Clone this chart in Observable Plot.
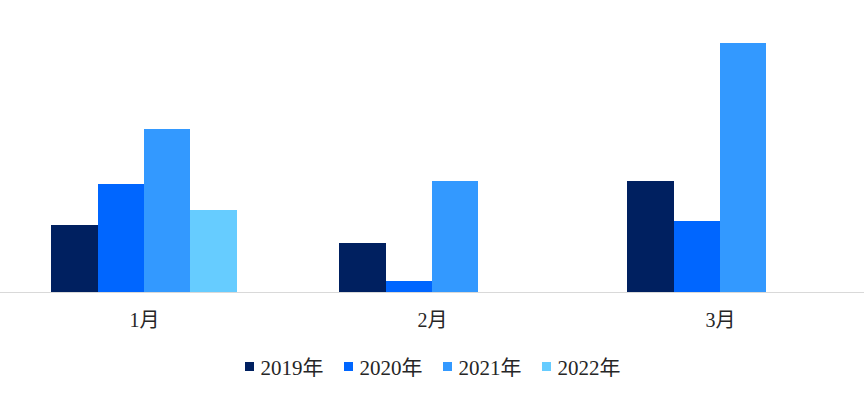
<!DOCTYPE html>
<html>
<head>
<meta charset="utf-8">
<script src="https://cdn.jsdelivr.net/npm/d3@7"></script>
<script src="https://cdn.jsdelivr.net/npm/@observablehq/plot@0.6"></script>
<style>
  body { margin: 0; background: #fff; }
  #chart { width: 865px; }
  .legend { display: flex; justify-content: center; align-items: center; margin-top: 10px; height: 22px;
    font-family: "Liberation Serif", "DejaVu Serif", serif, "Noto Sans CJK SC"; font-size: 21px; color: #262626; }
  .legend .item { display: flex; align-items: center; margin: 0 10px; }
  .legend .sw { width: 9px; height: 9px; margin-right: 7px; display: inline-block; }
</style>
</head>
<body>
<div id="chart"></div>
<script>
const months = ["1月", "2月", "3月"];
const years = ["2019年", "2020年", "2021年", "2022年"];
const v2019 = [67, 49, 111];
const v2020 = [108, 11, 71];
const v2021 = [163, 111, 249];
const v2022 = [82, null, null];
const colors = ["#002060", "#0066FF", "#3399FF", "#66CCFF"];

const series = [v2019, v2020, v2021, v2022];
const data = [];
months.forEach((m, i) => {
  years.forEach((y, j) => {
    const v = series[j][i];
    if (v != null) data.push({month: m, year: y, value: v});
  });
});

const font = "'Liberation Serif', 'DejaVu Serif', serif, 'Noto Sans CJK SC'";
const chart = Plot.plot({
  width: 865,
  height: 345,
  marginLeft: 0,
  marginRight: 1,
  marginTop: 0,
  marginBottom: 53,
  style: {fontFamily: font, fontSize: "20px", color: "#262626", background: "#fff"},
  fx: {domain: months, padding: 0, round: false, label: null},
  x: {domain: years, paddingInner: 0, paddingOuter: 1.097, round: false, axis: null},
  y: {domain: [0, 292], axis: null},
  color: {domain: years, range: colors},
  marks: [
    Plot.barY(data, {fx: "month", x: "year", y: "value", fill: "year", shapeRendering: "crispEdges"}),
    Plot.ruleY([0], {stroke: "#d9d9d9", strokeWidth: 1.2}),
    Plot.axisFx({anchor: "bottom", tickSize: 0, tickPadding: 20, fontSize: 20, fontFamily: font, fill: "#262626", label: null})
  ]
});
document.getElementById("chart").appendChild(chart);

const legend = document.createElement("div");
legend.className = "legend";
years.forEach((y, j) => {
  const item = document.createElement("span");
  item.className = "item";
  const sw = document.createElement("span");
  sw.className = "sw";
  sw.style.background = colors[j];
  item.appendChild(sw);
  item.appendChild(document.createTextNode(y));
  legend.appendChild(item);
});
document.getElementById("chart").appendChild(legend);
</script>
</body>
</html>
